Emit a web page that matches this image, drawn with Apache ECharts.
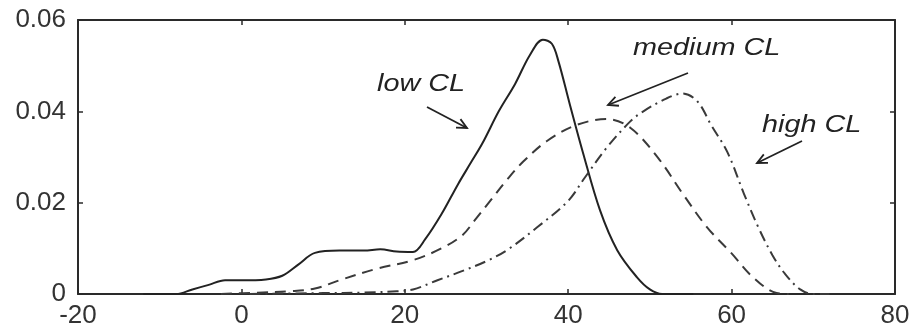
<!DOCTYPE html>
<html>
<head>
<meta charset="utf-8">
<script src="https://cdn.jsdelivr.net/npm/echarts@6/dist/echarts.min.js"></script>
<style>
  html, body { margin: 0; padding: 0; background: #fff; }
  #main { width: 913px; height: 336px; }
</style>
</head>
<body>
<div id="main"></div>
<script>
// density curves
const lowX  = [-12, -8, -6, -4, -2, 0, 3, 5, 7, 9, 12, 15, 17, 19, 21, 22.5, 24.5, 26.5, 28, 29.5, 31.5, 33.5, 35.3, 36.9, 38, 38.8, 40.2, 41.8, 43.9, 46, 48.4, 50, 51.5, 55.3];
const lowY  = [0, 0, 0.001, 0.002, 0.003, 0.003, 0.0032, 0.004, 0.0065, 0.009, 0.0095, 0.0095, 0.0098, 0.0093, 0.0092, 0.012, 0.0175, 0.024, 0.0285, 0.033, 0.040, 0.046, 0.0523, 0.0557, 0.0548, 0.051, 0.0415, 0.031, 0.0183, 0.0096, 0.0037, 0.001, 0, 0];
const medX  = [-2.5, 2, 6, 9, 12, 16.5, 21, 24.5, 27, 28.5, 30.5, 32.5, 34.5, 37.4, 41, 44.7, 47.6, 51, 54, 57, 60, 62.6, 65.5, 67];
const medY  = [0, 0.0003, 0.0006, 0.0012, 0.003, 0.0055, 0.0074, 0.0100, 0.0128, 0.016, 0.0205, 0.025, 0.029, 0.0335, 0.037, 0.0383, 0.0364, 0.0298, 0.022, 0.0146, 0.0089, 0.0037, 0.0002, 0];
const highX = [1, 10, 15, 19, 21, 24, 27, 30, 32.5, 36.2, 40, 42, 44.7, 47.6, 49.2, 52, 54, 55.8, 57.5, 59.5, 61.5, 63.3, 65, 66.5, 68.4, 70, 72];
const highY = [0, 0.0002, 0.0003, 0.0006, 0.001, 0.003, 0.005, 0.0072, 0.0096, 0.0146, 0.0204, 0.0254, 0.032, 0.0378, 0.040, 0.0428, 0.0439, 0.0422, 0.037, 0.031, 0.022, 0.0145, 0.0085, 0.0045, 0.001, 0, 0];

const xTicks = [-20, 0, 20, 40, 60, 80];
const yTicks = [0, 0.02, 0.04, 0.06];

const labels = ['low CL', 'medium CL', 'high CL'];

const zip = (xs, ys) => xs.map((x, i) => [x, ys[i]]);

const chartDom = document.getElementById('main');
const myChart = echarts.init(chartDom, null, { renderer: 'canvas' });

const frame = '#2a2a2a';
const tickFont = {
    fontFamily: 'Liberation Sans, Arial, sans-serif',
    fontSize: 26,
    color: '#333'
};

// arrow helper: line + open V head at (x2, y2)
function arrow(x1, y1, x2, y2) {
    const a = Math.atan2(y2 - y1, x2 - x1);
    const len = 11, spread = 0.45;
    const p1 = [x2 - len * Math.cos(a - spread), y2 - len * Math.sin(a - spread)];
    const p2 = [x2 - len * Math.cos(a + spread), y2 - len * Math.sin(a + spread)];
    const st = { stroke: '#222', lineWidth: 1.8, fill: null };
    return [
        { type: 'line', shape: { x1, y1, x2, y2 }, style: st, z: 10 },
        { type: 'polyline', shape: { points: [p1, [x2, y2], p2] }, style: st, z: 10 }
    ];
}

function label(text, x, y) {
    return {
        type: 'text', x, y, scaleX: 1.2, z: 10,
        style: {
            text, fill: '#222',
            font: 'italic 24px Liberation Sans, Arial, sans-serif',
            align: 'left', verticalAlign: 'middle'
        }
    };
}

const sideAxis = {
    axisLine: { show: true, onZero: false, lineStyle: { color: frame, width: 2 } },
    axisTick: { show: true, inside: true, length: 5, lineStyle: { color: frame, width: 1.5 } },
    splitLine: { show: false }
};

const option = {
    backgroundColor: '#fff',
    animation: false,
    grid: { left: 78, right: 18, top: 20, bottom: 42 },
    xAxis: [
        Object.assign({
            type: 'value', min: -20, max: 80, interval: 20,
            axisLabel: Object.assign({ margin: 9, formatter: v => xTicks.includes(v) ? String(v) : '' }, tickFont)
        }, sideAxis),
        Object.assign({
            type: 'value', position: 'top', min: -20, max: 80, interval: 20,
            axisLabel: { show: false }
        }, sideAxis)
    ],
    yAxis: [
        Object.assign({
            type: 'value', min: 0, max: 0.06, interval: 0.02,
            axisLabel: Object.assign({
                margin: 12,
                formatter: v => {
                    const t = yTicks.find(k => Math.abs(k - v) < 1e-9);
                    if (t === undefined) return '';
                    return t === 0 ? '0' : t.toFixed(2);
                }
            }, tickFont)
        }, sideAxis),
        Object.assign({
            type: 'value', position: 'right', min: 0, max: 0.06, interval: 0.02,
            axisLabel: { show: false }
        }, sideAxis)
    ],
    series: [
        {
            name: labels[0], type: 'line', data: zip(lowX, lowY),
            smooth: 0.35, showSymbol: false,
            lineStyle: { color: '#222', width: 2, type: 'solid' }
        },
        {
            name: labels[1], type: 'line', data: zip(medX, medY),
            smooth: 0.35, showSymbol: false,
            lineStyle: { color: '#3a3a3a', width: 2, type: [11, 7] }
        },
        {
            name: labels[2], type: 'line', data: zip(highX, highY),
            smooth: 0.35, showSymbol: false,
            lineStyle: { color: '#3a3a3a', width: 2, type: [11, 5, 2, 5] }
        }
    ],
    graphic: [
        label(labels[0], 377, 84),
        label(labels[1], 633, 48),
        label(labels[2], 762, 125),
        ...arrow(427, 107, 467, 128),
        ...arrow(688, 73, 608, 105),
        ...arrow(802, 141, 757, 163)
    ]
};

myChart.setOption(option);
</script>
</body>
</html>
